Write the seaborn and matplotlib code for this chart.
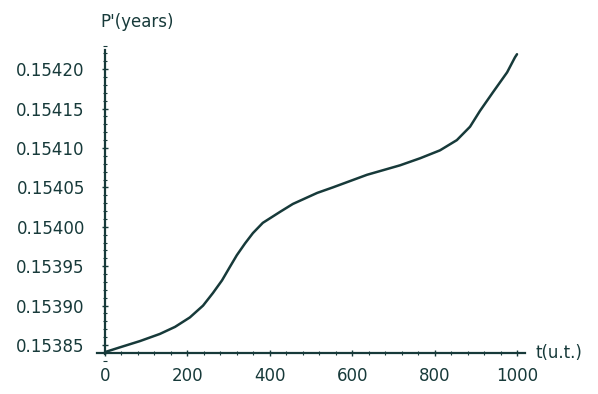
import matplotlib
matplotlib.use("Agg")
import matplotlib.pyplot as plt
from matplotlib.ticker import MultipleLocator, FixedLocator
import seaborn as sns
import pandas as pd

# data
t_values = [0, 36, 85, 133, 170, 206, 238, 262, 284, 303, 320, 340, 359, 383,
            425, 456, 515, 553, 636, 716, 765, 813, 854, 886, 910, 942, 976,
            995, 1000]
p_values = [0.153841, 0.153847, 0.153855, 0.153864, 0.153873, 0.153885, 0.153900,
            0.153916, 0.153932, 0.153949, 0.153964, 0.153979, 0.153992, 0.154005,
            0.154019, 0.154029, 0.154043, 0.154050, 0.154066, 0.154078, 0.154087,
            0.154097, 0.154110, 0.154127, 0.154147, 0.154171, 0.154196,
            0.154215, 0.154219]
x_ticks = [0, 200, 400, 600, 800, 1000]
y_ticks = [0.15385, 0.15390, 0.15395, 0.15400, 0.15405, 0.15410, 0.15415, 0.15420]
y_tick_labels = ["0.15385", "0.15390", "0.15395", "0.15400",
                 "0.15405", "0.15410", "0.15415", "0.15420"]
x_label = "t(u.t.)"
y_label = "P'(years)"

sns.set_style("white")
plt.rcParams["font.family"] = ["DejaVu Sans"]

ink = "#173a3a"
W, H = 598, 394
fig = plt.figure(figsize=(W / 100, H / 100), dpi=100)

# axes placement (pixel geometry)
x_lo, x_hi = -20, 1030
px_per_x = 0.412
left_px = 105 + x_lo * px_per_x
width_px = (x_hi - x_lo) * px_per_x
y_lo, y_hi = 0.15383, 0.15423
px_per_y = 1 / 1.269e-6
y_at_15385 = 345
bottom_from_top = y_at_15385 + (0.15385 - y_lo) * px_per_y
top_from_top = y_at_15385 - (y_hi - 0.15385) * px_per_y
ax = fig.add_axes([left_px / W, (H - bottom_from_top) / H,
                   width_px / W, (bottom_from_top - top_from_top) / H])

df = pd.DataFrame({"t": t_values, "P": p_values})
sns.lineplot(data=df, x="t", y="P", ax=ax, color=ink, linewidth=1.8, estimator=None)
for ln in ax.lines:
    ln.set_solid_joinstyle("round")
    ln.set_solid_capstyle("round")

ax.set_xlim(x_lo, x_hi)
ax.set_ylim(y_lo, y_hi)
ax.set_xlabel("")
ax.set_ylabel("")

for s in ["top", "right"]:
    ax.spines[s].set_visible(False)
ax.spines["left"].set_position(("data", 0))
ax.spines["bottom"].set_position(("data", 0.153840))
ax.spines["left"].set_bounds(0.153838, 0.154224)
ax.spines["bottom"].set_bounds(-20, 1020)
for s in ["left", "bottom"]:
    ax.spines[s].set_color(ink)
    ax.spines[s].set_linewidth(1.6)

ax.xaxis.set_major_locator(FixedLocator(x_ticks))
ax.xaxis.set_minor_locator(MultipleLocator(40))
ax.yaxis.set_major_locator(FixedLocator(y_ticks))
ax.set_yticklabels(y_tick_labels)
ax.yaxis.set_minor_locator(MultipleLocator(0.00001))

ax.tick_params(axis="both", which="major", direction="inout", length=5, width=1.0,
               color=ink, labelcolor=ink, labelsize=12)
ax.tick_params(axis="both", which="minor", direction="inout", length=3, width=0.8,
               color=ink)
ax.tick_params(axis="x", which="major", pad=8)
ax.tick_params(axis="y", which="major", pad=12)
ax.tick_params(axis="y", which="both", left=True)
ax.tick_params(axis="x", which="both", bottom=True)

fig.text(100 / W, 1 - 22 / H, y_label, color=ink, fontsize=12,
         ha="left", va="center")
fig.text(536 / W, 1 - 353 / H, x_label, color=ink, fontsize=12,
         ha="left", va="center")

fig.savefig("out.png", dpi=100, facecolor="white")
